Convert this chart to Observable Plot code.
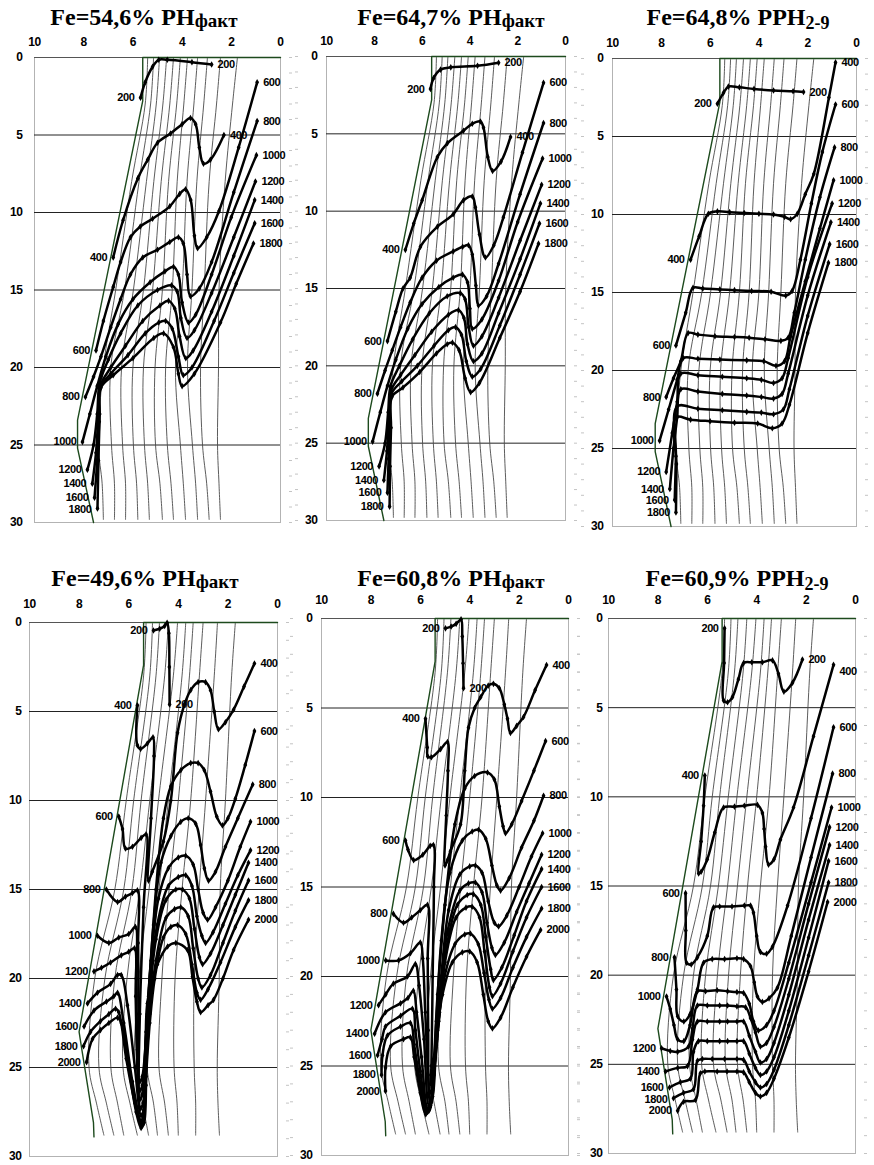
<!DOCTYPE html>
<html><head><meta charset="utf-8">
<script src="https://cdn.jsdelivr.net/npm/d3@7"></script>
<script src="https://cdn.jsdelivr.net/npm/@observablehq/plot@0.6"></script>
<style>
html,body{margin:0;padding:0;background:#fff;}
#page{position:relative;width:874px;height:1165px;overflow:hidden;background:#fff;}
.title{position:absolute;width:320px;text-align:center;font-family:"Liberation Serif","Times New Roman",serif;font-weight:bold;font-size:24px;line-height:24px;color:#000;white-space:nowrap;}
.title .sub{font-size:19px;position:relative;top:2px;}
.title .sub2{font-size:18px;position:relative;top:4px;}
.panel{position:absolute;}
.panel text{letter-spacing:-0.4px;}
</style></head><body><div id="page"></div>
<script>
// ---------- axis values ----------
const xTicks = [10, 8, 6, 4, 2, 0];
const yTicks = [0, 5, 10, 15, 20, 25, 30];
const minorY = [0,1,2,3,4,5,6,7,8,9,10,11,12,13,14,15,16,17,18,19,20,21,22,23,24,25,26,27,28,29,30];
const gridY = [5, 10, 15, 20, 25];

// ---------- pit geometry (top row) ----------
const outlineTop = [[0,0],[5.6,0],[5.6,2.8],[8.25,23.4],[8.25,25.2],[7.6,30]];
const thinDepthTop = [0, 3, 8, 15, 20, 25, 27.5, 29.8];
const thinTop = [
  [5.40, 5.50, 6.05, 6.70, 7.20, 7.40, 7.25, 7.20],
  [5.16, 5.28, 5.75, 6.34, 6.90, 6.87, 6.75, 6.75],
  [4.92, 5.05, 5.45, 5.98, 6.46, 6.42, 6.30, 6.30],
  [4.63, 4.78, 5.15, 5.57, 6.00, 5.98, 5.85, 5.80],
  [4.35, 4.50, 4.85, 5.20, 5.57, 5.53, 5.40, 5.33],
  [4.07, 4.22, 4.55, 4.80, 5.10, 5.08, 4.90, 4.80],
  [3.78, 3.93, 4.20, 4.40, 4.67, 4.60, 4.45, 4.35],
  [3.37, 3.52, 3.80, 4.00, 4.27, 4.07, 3.95, 3.86],
  [2.97, 3.12, 3.40, 3.60, 3.78, 3.58, 3.45, 3.37],
  [2.44, 2.60, 2.90, 3.10, 3.25, 3.17, 3.00, 2.90],
  [1.75, 1.95, 2.25, 2.50, 2.52, 2.56, 2.50, 2.44]
];

// ---------- pit geometry (bottom row) ----------
const outlineBottom = [[0,0],[5.4,0],[5.4,2.4],[8.0,23.0],[7.9,23.9],[7.42,28.1],[7.4,28.9]];
const thinDepthBottom = [0, 3, 10, 15, 20, 25, 27, 28.8];
const thinBottom = [
  [5.30, 5.40, 6.10, 6.56, 7.37, 7.60, 7.30, 7.00],
  [5.04, 5.15, 5.80, 6.20, 6.96, 7.20, 6.90, 6.60],
  [4.76, 4.90, 5.50, 5.87, 6.56, 6.72, 6.45, 6.20],
  [4.40, 4.55, 5.15, 5.55, 6.07, 6.23, 5.95, 5.65],
  [4.03, 4.20, 4.80, 5.18, 5.59, 5.75, 5.45, 5.20],
  [3.70, 3.85, 4.40, 4.78, 5.14, 5.26, 5.00, 4.84],
  [3.40, 3.55, 4.00, 4.37, 4.66, 4.78, 4.55, 4.40],
  [3.00, 3.15, 3.50, 3.85, 4.13, 4.17, 4.05, 4.00],
  [2.42, 2.55, 2.90, 3.16, 3.36, 3.36, 3.30, 3.30],
  [1.70, 1.85, 2.10, 2.31, 2.35, 2.43, 2.40, 2.34]
];

// ---------- curves: Fe=54,6% РН факт ----------
const fe546 = [
  ["200", [[5.69,2.6],[5.5,1.6],[5.2,0.6],[4.95,0.15],[4.6,0.15],[3.6,0.3],[2.8,0.45]]],
  ["400", [[6.8,12.9],[6.4,10.5],[5.8,7.8],[5.4,6.6],[5.0,5.5],[4.47,4.9],[4.0,4.3],[3.66,3.9],[3.45,4.3],[3.3,5.8],[3.13,6.85],[2.85,6.6],[2.3,5.0]]],
  ["600", [[7.5,18.9],[7.2,17.0],[6.8,14.8],[6.5,13.2],[6.1,11.6],[5.7,10.9],[5.2,10.4],[4.5,9.6],[4.1,8.8],[3.86,8.5],[3.65,9.2],[3.5,11.5],[3.37,12.3],[3.0,11.6],[2.5,9.9],[1.7,5.8],[0.95,1.6]]],
  ["800", [[7.93,21.9],[7.6,20.6],[7.3,19.3],[6.9,17.4],[6.5,15.6],[6.1,14.0],[5.6,12.9],[5.0,12.4],[4.5,11.9],[4.15,11.6],[3.95,12.0],[3.8,14.0],[3.66,15.4],[3.3,14.9],[2.8,13.2],[1.9,8.7],[0.95,4.1]]],
  ["1000", [[8.05,24.8],[7.75,23.0],[7.45,21.2],[7.1,19.3],[6.6,17.2],[6.0,15.6],[5.3,14.5],[4.7,13.8],[4.35,13.5],[4.15,14.0],[4.0,15.8],[3.74,17.1],[3.45,16.6],[2.8,14.0],[2.0,10.3],[0.98,6.3]]],
  ["1200", [[7.85,26.6],[7.6,25.0],[7.45,23.0],[7.35,21.0],[7.0,19.5],[6.5,17.8],[5.8,16.0],[5.0,15.0],[4.43,14.7],[4.2,15.1],[4.05,16.8],[3.8,18.1],[3.5,17.6],[2.8,15.2],[1.9,11.6],[1.02,8.0]]],
  ["1400", [[7.65,27.5],[7.5,25.5],[7.4,23.0],[7.33,21.2],[6.9,20.0],[6.3,18.6],[5.6,17.0],[4.9,16.0],[4.55,15.7],[4.3,16.2],[4.1,18.0],[3.85,19.4],[3.55,18.9],[2.8,16.4],[1.9,12.8],[1.05,9.2]]],
  ["1600", [[7.56,28.4],[7.45,26.0],[7.37,23.5],[7.32,21.3],[6.9,20.4],[6.2,19.2],[5.5,17.8],[4.95,17.1],[4.67,17.0],[4.4,17.5],[4.15,19.3],[3.95,20.5],[3.6,20.0],[2.7,17.0],[1.9,13.9],[1.05,10.7]]],
  ["1800", [[7.44,29.1],[7.4,26.0],[7.35,23.0],[7.3,21.3],[6.8,20.5],[6.0,19.4],[5.15,18.1],[4.75,17.8],[4.35,18.7],[4.15,20.4],[4.0,21.2],[3.5,20.4],[2.44,17.1],[1.8,14.6],[1.1,12.0]]]
];

// ---------- curves: Fe=64,7% РН факт ----------
const fe647 = [
  ["200", [[5.65,2.1],[5.52,1.4],[5.23,0.85],[4.8,0.7],[3.68,0.6],[2.8,0.4]]],
  ["400", [[6.7,12.5],[6.35,10.8],[6.0,9.3],[5.36,6.5],[4.94,5.6],[4.27,4.8],[3.9,4.35],[3.56,4.2],[3.43,4.6],[3.25,6.5],[3.05,7.4],[2.7,6.8],[2.3,5.2]]],
  ["600", [[7.45,18.4],[7.1,16.5],[6.8,15.0],[6.5,14.3],[6.07,12.3],[5.36,11.0],[4.7,10.2],[4.27,9.3],[3.9,9.05],[3.77,9.75],[3.6,11.5],[3.35,13.0],[3.0,12.2],[2.6,10.4],[1.8,6.2],[0.92,1.7]]],
  ["800", [[7.87,21.8],[7.55,20.3],[7.25,19.0],[6.9,17.5],[6.5,15.9],[6.0,14.3],[5.4,13.2],[4.7,12.6],[4.3,12.3],[4.06,12.2],[3.9,12.8],[3.75,14.8],[3.64,16.1],[3.3,15.5],[2.8,13.4],[1.9,8.9],[0.92,4.3]]],
  ["1000", [[8.07,24.9],[7.75,23.0],[7.45,21.3],[7.1,19.6],[6.6,17.6],[6.0,16.0],[5.3,14.9],[4.7,14.3],[4.31,14.1],[4.1,14.6],[4.0,16.3],[3.9,17.6],[3.5,17.0],[2.8,14.5],[2.0,10.7],[0.96,6.6]]],
  ["1200", [[7.8,26.5],[7.55,25.0],[7.42,23.0],[7.32,21.3],[6.95,20.0],[6.4,18.3],[5.7,16.6],[4.95,15.5],[4.4,15.3],[4.2,15.7],[4.05,17.5],[3.85,18.7],[3.5,18.1],[2.8,15.6],[1.9,11.9],[1.0,8.3]]],
  ["1400", [[7.6,27.4],[7.47,25.5],[7.38,23.2],[7.3,21.6],[6.9,20.6],[6.3,19.3],[5.6,17.8],[4.9,16.7],[4.48,16.4],[4.25,16.9],[4.1,18.6],[3.85,19.7],[3.5,19.2],[2.8,16.6],[1.9,13.1],[1.05,9.5]]],
  ["1600", [[7.45,28.2],[7.4,26.0],[7.34,23.5],[7.28,21.8],[6.85,21.0],[6.2,20.0],[5.5,18.7],[4.9,17.7],[4.6,17.5],[4.35,18.0],[4.15,19.7],[3.9,20.7],[3.55,20.2],[2.75,17.4],[1.9,14.1],[1.09,10.8]]],
  ["1800", [[7.36,29.1],[7.34,26.5],[7.3,24.0],[7.26,22.0],[6.8,21.4],[6.1,20.4],[5.4,19.2],[4.95,18.6],[4.73,18.5],[4.45,19.0],[4.2,20.8],[3.97,21.7],[3.6,21.1],[2.75,18.2],[1.9,15.2],[1.13,12.1]]]
];

// ---------- curves: Fe=64,8% РРН 2-9 ----------
const fe648 = [
  ["200", [[5.7,2.9],[5.45,2.2],[5.25,1.8],[4.8,1.85],[4.2,1.95],[3.4,2.05],[2.6,2.1],[2.17,2.15]]],
  ["400", [[6.8,12.9],[6.45,11.4],[6.07,9.95],[5.7,9.8],[5.2,9.85],[4.6,9.9],[4.0,9.95],[3.4,10.0],[2.95,10.15],[2.7,10.3],[2.43,9.96],[2.1,8.7],[1.75,7.4],[1.13,2.5],[0.86,0.25]]],
  ["600", [[7.4,18.4],[7.0,16.3],[6.7,14.7],[6.3,14.75],[5.6,14.8],[5.0,14.85],[4.3,14.9],[3.5,14.95],[2.9,15.2],[2.64,14.9],[2.3,12.9],[1.85,9.3],[1.4,6.0],[0.86,2.95]]],
  ["800", [[7.8,21.7],[7.5,20.5],[7.2,19.4],[6.9,17.6],[6.5,17.7],[5.8,17.8],[5.0,17.85],[4.4,17.9],[3.75,18.0],[3.1,18.1],[2.8,17.9],[2.55,16.3],[2.1,12.9],[1.5,8.9],[0.9,5.7]]],
  ["1000", [[8.07,24.5],[7.7,22.5],[7.35,20.6],[7.1,19.2],[6.5,19.25],[5.6,19.3],[4.5,19.35],[3.8,19.4],[3.3,19.7],[2.95,19.4],[2.7,17.8],[2.1,14.3],[1.5,10.9],[0.94,7.8]]],
  ["1200", [[7.8,26.5],[7.55,24.0],[7.35,22.0],[7.2,20.2],[6.5,20.3],[5.5,20.4],[4.5,20.5],[3.9,20.6],[3.4,20.8],[3.05,20.5],[2.8,19.2],[2.0,14.0],[1.0,9.3]]],
  ["1400", [[7.65,27.6],[7.5,25.0],[7.35,23.0],[7.2,21.2],[6.5,21.35],[5.5,21.5],[4.5,21.6],[3.9,21.7],[3.4,21.8],[3.05,21.5],[2.8,20.2],[2.0,15.2],[1.05,10.5]]],
  ["1600", [[7.45,28.3],[7.4,25.5],[7.35,22.3],[6.5,22.45],[5.5,22.55],[4.5,22.65],[3.9,22.7],[3.4,22.8],[3.0,22.5],[2.75,21.2],[2.0,16.5],[1.1,11.9]]],
  ["1800", [[7.4,29.1],[7.38,26.0],[7.4,23.0],[6.8,23.15],[6.0,23.25],[5.0,23.35],[4.05,23.4],[3.45,23.7],[3.05,23.4],[2.75,22.2],[2.0,17.6],[1.15,13.1]]]
];

// ---------- curves: Fe=49,6% РН факт ----------
const fe496 = [
  ["200", [[5.0,0.45],[4.75,0.35],[4.55,0.2],[4.45,0.02],[4.38,0.6],[4.36,2.5],[4.35,4.6]]],
  ["400", [[5.65,4.65],[5.65,6.9],[5.52,7.1],[5.25,6.8],[5.02,6.45],[4.98,7.5],[5.1,11.0],[5.2,14.5],[5.05,14.0],[4.6,12.3],[4.3,10.0],[4.03,6.2],[3.75,4.6],[3.5,3.8],[3.2,3.35],[2.9,3.35],[2.7,3.8],[2.55,5.0],[2.38,6.0],[2.1,5.6],[1.77,4.9],[1.35,3.6],[0.93,2.3]]],
  ["600", [[6.4,10.9],[6.25,11.6],[6.13,12.7],[5.85,12.6],[5.5,12.1],[5.3,11.9],[5.4,16.0],[5.55,22.0],[5.55,25.8],[5.45,25.5],[5.2,21.0],[4.9,15.0],[4.6,11.0],[4.3,9.2],[3.9,8.3],[3.5,7.9],[3.2,7.9],[2.95,8.3],[2.7,9.5],[2.45,10.9],[2.22,11.4],[2.0,11.0],[1.7,9.9],[1.3,8.0],[0.93,6.1]]],
  ["800", [[6.9,15.0],[6.45,15.7],[6.13,15.4],[5.85,15.2],[5.65,15.05],[5.62,18.0],[5.6,22.0],[5.55,26.3],[5.45,26.0],[5.25,22.0],[5.0,17.0],[4.7,13.5],[4.3,12.0],[3.9,11.2],[3.6,11.0],[3.3,11.3],[3.1,12.5],[2.95,13.8],[2.78,14.5],[2.5,14.0],[2.1,12.6],[1.6,11.0],[1.0,9.1]]],
  ["1000", [[7.26,17.6],[6.8,18.0],[6.4,17.7],[6.0,17.5],[5.73,17.1],[5.7,20.0],[5.65,24.0],[5.55,26.8],[5.45,26.5],[5.3,23.0],[5.1,19.0],[4.8,15.5],[4.4,13.8],[4.0,13.2],[3.7,13.1],[3.4,13.6],[3.2,15.0],[3.0,16.3],[2.82,16.7],[2.5,16.0],[2.0,14.5],[1.5,12.6],[1.09,11.2]]],
  ["1200", [[7.4,19.6],[7.1,19.4],[6.73,19.1],[6.3,18.7],[6.0,18.5],[5.77,18.3],[5.72,21.0],[5.65,25.0],[5.52,27.3],[5.42,27.0],[5.3,24.0],[5.15,20.5],[4.85,17.0],[4.4,14.8],[4.0,14.3],[3.7,14.2],[3.45,14.8],[3.25,16.5],[3.05,17.6],[2.9,18.0],[2.6,17.4],[2.1,15.8],[1.6,14.2],[1.09,12.8]]],
  ["1400", [[7.66,21.4],[7.26,20.8],[6.73,20.3],[6.45,19.8],[6.3,19.8],[6.05,21.5],[5.75,25.0],[5.5,27.7],[5.4,27.4],[5.3,24.5],[5.15,21.0],[4.9,17.8],[4.5,15.6],[4.1,15.0],[3.83,15.0],[3.55,15.5],[3.35,17.2],[3.15,18.8],[3.02,19.2],[2.7,18.6],[2.2,17.0],[1.7,15.3],[1.17,13.5]]],
  ["1600", [[7.8,22.7],[7.4,21.8],[6.9,21.3],[6.6,21.0],[6.45,20.8],[6.2,22.5],[5.85,25.8],[5.5,28.0],[5.4,27.7],[5.3,25.0],[5.15,22.0],[4.9,19.0],[4.5,16.6],[4.15,16.1],[3.9,16.0],[3.6,16.5],[3.4,18.3],[3.2,20.0],[3.05,20.5],[2.7,19.8],[2.2,18.0],[1.7,16.2],[1.17,14.5]]],
  ["1800", [[7.82,23.8],[7.54,23.0],[7.14,22.4],[6.8,22.0],[6.53,21.7],[6.4,21.9],[6.1,24.5],[5.75,27.0],[5.5,28.2],[5.4,27.9],[5.3,25.5],[5.15,22.5],[4.95,20.0],[4.6,17.7],[4.3,17.1],[4.03,17.0],[3.7,17.5],[3.45,19.2],[3.25,20.8],[3.1,21.2],[2.8,20.6],[2.3,19.1],[1.7,17.1],[1.17,15.6]]],
  ["2000", [[7.7,24.7],[7.46,23.4],[7.14,22.9],[6.8,22.5],[6.45,22.2],[6.3,22.5],[6.0,25.0],[5.7,27.5],[5.5,28.4],[5.38,28.1],[5.3,26.0],[5.25,21.4],[4.84,19.2],[4.43,18.2],[4.1,18.0],[3.63,18.4],[3.43,19.9],[3.25,21.3],[3.1,21.9],[2.8,21.5],[2.58,21.2],[2.2,20.0],[1.77,18.4],[1.17,16.7]]]
];

// ---------- curves: Fe=60,8% РН факт ----------
const fe608 = [
  ["200", [[4.98,0.55],[4.75,0.45],[4.55,0.3],[4.35,0.05],[4.3,1.0],[4.27,2.5],[4.25,3.9]]],
  ["400", [[5.79,5.6],[5.72,7.2],[5.7,7.7],[5.55,7.75],[5.18,7.3],[4.9,6.9],[4.88,8.5],[4.95,11.0],[5.0,13.8],[4.9,13.5],[4.78,13.0],[4.37,11.5],[4.2,8.5],[4.05,6.1],[3.8,5.0],[3.56,4.4],[3.25,3.75],[3.04,3.65],[2.8,3.9],[2.6,4.8],[2.47,5.6],[2.35,6.4],[2.1,6.0],[1.82,5.5],[1.35,4.0],[0.89,2.6]]],
  ["600", [[6.6,12.4],[6.5,12.9],[6.27,13.5],[5.9,13.2],[5.6,12.7],[5.47,12.65],[5.45,15.0],[5.5,20.0],[5.55,25.0],[5.58,26.0],[5.5,25.5],[5.3,21.0],[5.0,16.0],[4.6,11.5],[4.2,9.5],[3.8,8.8],[3.28,8.6],[3.0,9.0],[2.8,10.5],[2.65,11.6],[2.55,12.0],[2.3,11.5],[1.9,10.2],[1.4,8.5],[0.93,6.85]]],
  ["800", [[7.09,16.5],[6.68,17.0],[6.35,16.7],[6.0,16.3],[5.71,16.0],[5.7,19.0],[5.68,23.0],[5.62,26.5],[5.52,26.2],[5.35,22.5],[5.15,18.0],[4.8,14.2],[4.3,12.4],[3.9,11.9],[3.64,11.8],[3.35,12.3],[3.1,13.8],[2.9,14.9],[2.75,15.2],[2.4,14.5],[1.9,12.8],[1.4,11.3],[1.01,9.9]]],
  ["1000", [[7.4,19.1],[6.88,19.1],[6.4,18.7],[6.0,18.1],[5.9,19.0],[5.8,22.0],[5.68,25.5],[5.6,27.0],[5.5,26.7],[5.35,23.5],[5.15,20.0],[4.85,16.3],[4.4,14.3],[4.0,13.85],[3.77,13.8],[3.5,14.2],[3.25,15.8],[3.0,17.0],[2.83,17.2],[2.5,16.6],[2.0,15.0],[1.5,13.3],[1.05,12.0]]],
  ["1200", [[7.69,21.6],[7.4,21.0],[7.09,20.4],[6.52,20.0],[6.2,19.3],[6.05,20.5],[5.85,23.5],[5.65,27.2],[5.55,27.0],[5.4,24.5],[5.2,21.0],[4.9,17.5],[4.4,15.2],[4.05,14.8],[3.77,14.75],[3.5,15.3],[3.3,17.0],[3.1,18.4],[2.96,18.8],[2.6,18.1],[2.1,16.4],[1.6,14.8],[1.09,13.2]]],
  ["1400", [[7.85,23.2],[7.41,22.0],[6.8,21.5],[6.5,21.2],[6.28,20.8],[6.15,22.0],[5.95,24.5],[5.7,27.4],[5.58,27.2],[5.42,25.0],[5.22,22.0],[4.95,18.5],[4.5,16.0],[4.1,15.45],[3.85,15.4],[3.55,16.0],[3.35,17.8],[3.15,19.6],[3.04,20.2],[2.7,19.5],[2.2,17.7],[1.7,15.8],[1.09,14.0]]],
  ["1600", [[7.73,24.4],[7.55,23.5],[7.41,22.8],[6.8,22.2],[6.32,21.8],[6.2,23.0],[6.0,25.3],[5.72,27.5],[5.6,27.3],[5.45,25.5],[5.25,22.5],[5.0,19.2],[4.55,16.7],[4.15,16.15],[3.9,16.1],[3.6,16.7],[3.4,18.6],[3.2,20.6],[3.08,21.1],[2.75,20.4],[2.25,18.6],[1.7,16.7],[1.09,15.0]]],
  ["1800", [[7.57,25.5],[7.53,24.4],[7.33,23.3],[6.8,22.8],[6.4,22.6],[6.25,23.8],[6.0,26.0],[5.75,27.6],[5.62,27.4],[5.48,25.8],[5.3,23.0],[5.05,20.2],[4.6,18.2],[4.2,17.65],[3.97,17.6],[3.65,18.2],[3.42,19.8],[3.22,21.3],[3.08,21.8],[2.75,21.2],[2.25,19.5],[1.7,17.8],[1.09,16.2]]],
  ["2000", [[7.41,26.4],[7.41,25.1],[7.2,23.9],[6.68,23.5],[6.4,23.4],[6.25,24.5],[6.0,26.5],[5.78,27.7],[5.65,27.5],[5.5,26.0],[5.35,23.5],[5.1,21.0],[4.7,19.2],[4.3,18.65],[4.0,18.6],[3.7,19.2],[3.45,21.0],[3.25,22.5],[3.08,22.9],[2.75,22.3],[2.25,20.6],[1.7,18.9],[1.13,17.4]]]
];

// ---------- curves: Fe=60,9% РРН 2-9 ----------
const fe609 = [
  ["200", [[5.3,0.55],[5.32,2.5],[5.34,4.6],[5.18,4.7],[4.98,4.4],[4.74,3.4],[4.53,2.5],[4.2,2.45],[3.77,2.45],[3.36,2.35],[3.12,3.1],[2.9,4.1],[2.55,3.6],[2.15,2.3]]],
  ["400", [[6.1,8.8],[6.15,10.5],[6.25,12.5],[6.35,14.3],[6.25,14.2],[6.0,13.5],[5.7,12.0],[5.34,10.6],[4.9,10.55],[4.5,10.5],[3.97,10.45],[3.77,10.9],[3.7,11.8],[3.64,12.8],[3.52,13.8],[3.3,13.5],[3.04,12.4],[2.51,10.6],[1.7,6.6],[0.89,2.6]]],
  ["600", [[6.88,15.4],[6.87,17.5],[6.84,19.3],[6.65,19.4],[6.4,19.0],[6.0,17.8],[5.75,16.2],[5.5,16.15],[5.0,16.15],[4.5,16.1],[4.25,16.1],[4.13,16.5],[4.0,17.8],[3.85,18.7],[3.6,18.8],[3.36,18.4],[2.75,16.1],[1.8,11.2],[0.89,6.1]]],
  ["800", [[7.33,19.0],[7.25,20.8],[7.2,22.3],[6.95,22.6],[6.7,22.2],[6.4,20.8],[6.15,19.3],[5.8,19.1],[5.3,19.1],[4.8,19.05],[4.53,19.1],[4.25,19.5],[4.1,20.4],[3.97,21.2],[3.77,21.5],[3.5,21.3],[3.16,20.7],[2.6,17.8],[1.8,13.4],[0.93,8.7]]],
  ["1000", [[7.65,21.2],[7.5,21.9],[7.35,22.8],[7.2,23.6],[6.95,23.7],[6.7,22.8],[6.4,20.9],[6.07,20.9],[5.6,20.85],[5.18,20.9],[4.8,20.95],[4.53,21.0],[4.3,21.6],[4.13,22.6],[3.93,23.1],[3.6,22.8],[3.3,22.0],[2.7,19.3],[1.8,14.8],[0.97,10.6]]],
  ["1200", [[7.85,24.1],[7.5,24.25],[7.2,24.3],[6.76,24.0],[6.6,23.0],[6.4,21.7],[6.0,21.7],[5.5,21.7],[5.18,21.7],[4.8,21.75],[4.45,21.8],[4.25,22.4],[4.05,23.2],[3.85,24.0],[3.6,23.8],[3.3,22.9],[2.7,20.2],[1.9,16.0],[1.05,11.7]]],
  ["1400", [[7.69,25.4],[7.2,25.2],[6.8,25.1],[6.6,23.6],[6.4,22.6],[6.0,22.6],[5.5,22.6],[5.18,22.6],[4.8,22.6],[4.53,22.6],[4.3,23.4],[4.05,24.3],[3.85,24.9],[3.6,24.7],[3.3,23.8],[2.7,21.1],[1.9,16.9],[1.05,12.7]]],
  ["1600", [[7.53,26.3],[7.09,26.0],[6.68,25.8],[6.56,24.3],[6.36,23.7],[6.0,23.7],[5.5,23.7],[5.18,23.7],[4.8,23.7],[4.53,23.7],[4.3,24.4],[4.05,25.2],[3.85,25.6],[3.6,25.4],[3.3,24.6],[2.7,22.0],[1.9,17.9],[1.09,13.6]]],
  ["1800", [[7.37,26.9],[6.96,26.6],[6.56,26.4],[6.4,24.8],[6.2,24.7],[5.8,24.7],[5.3,24.7],[4.8,24.7],[4.53,24.75],[4.3,25.4],[4.05,26.0],[3.85,26.3],[3.6,26.1],[3.3,25.3],[2.7,22.8],[1.9,18.9],[1.09,14.8]]],
  ["2000", [[7.2,27.6],[6.96,27.1],[6.48,27.0],[6.28,25.5],[6.1,25.4],[5.6,25.4],[5.2,25.4],[4.8,25.4],[4.53,25.45],[4.3,26.0],[4.05,26.6],[3.85,26.8],[3.6,26.6],[3.3,25.8],[2.7,23.5],[1.9,19.8],[1.13,15.9]]]
];

// ---------- titles ----------
const titleMain = ["Fe=54,6% РН", "Fe=64,7% РН", "Fe=64,8% РРН", "Fe=49,6% РН", "Fe=60,8% РН", "Fe=60,9% РРН"];
const titleSub = ["факт", "факт", "2-9", "факт", "факт", "2-9"];

// ---------- layout ----------
const layout = [
  {curves: fe546, row: "top", frame: [34, 57, 280, 522], svgLeft: 0, svgTop: 30, yPad: 12, xPad: 12, cx: 144, tTop: 5, leftDash: false},
  {curves: fe647, row: "top", frame: [326, 56, 565, 520], svgLeft: 292, svgTop: 30, yPad: 9, xPad: 12, cx: 451, tTop: 5, leftDash: true},
  {curves: fe648, row: "top", frame: [612, 58, 856, 526], svgLeft: 580, svgTop: 30, yPad: 9, xPad: 12, cx: 738, tTop: 5, leftDash: true},
  {curves: fe496, row: "bottom", frame: [29, 622, 277, 1156], svgLeft: 0, svgTop: 590, yPad: 8, xPad: 15, cx: 145, tTop: 566, leftDash: false},
  {curves: fe608, row: "bottom", frame: [321, 618, 568, 1155], svgLeft: 290, svgTop: 590, yPad: 9, xPad: 15, cx: 451, tTop: 566, leftDash: true},
  {curves: fe609, row: "bottom", frame: [608, 618, 855, 1153], svgLeft: 578, svgTop: 590, yPad: 6, xPad: 15, cx: 737, tTop: 566, leftDash: true}
];

const page = document.getElementById("page");
const labelFont = "Liberation Sans, Arial, sans-serif";
const LABEL_SIZE = 11;
const MIN_GAP = 11.5; // px between stacked curve labels

// nudge stacked labels apart so they don't collide (derived positions only)
function dodge(labels, pxPerUnit) {
  const sorted = labels.slice().sort((a, b) => a.y - b.y);
  for (let i = 1; i < sorted.length; i++) {
    const gap = (sorted[i].y - sorted[i - 1].y) * pxPerUnit;
    if (gap < MIN_GAP) sorted[i].y = sorted[i - 1].y + MIN_GAP / pxPerUnit;
  }
  return labels;
}

layout.forEach((p, idx) => {
  const [fl, ft, fr, fb] = p.frame;
  const marginLeft = fl - p.svgLeft, marginTop = ft - p.svgTop;
  const marginRight = 12, marginBottom = 6;
  const width = fr - p.svgLeft + marginRight;
  const height = fb - p.svgTop + marginBottom;
  const pxPerUnit = (fb - ft) / 30;

  const depth = p.row === "top" ? thinDepthTop : thinDepthBottom;
  const thinSet = p.row === "top" ? thinTop : thinBottom;
  const outline = (p.row === "top" ? outlineTop : outlineBottom).map(([x, y]) => ({x, y}));
  const thin = thinSet.flatMap((xs, k) => xs.map((x, j) => ({k, x, y: depth[j]})));
  const pts = p.curves.flatMap(([label, arr]) => arr.map(([x, y]) => ({label, x, y})));
  const starts = dodge(p.curves.map(([label, arr]) => ({label, x: arr[0][0], y: arr[0][1]})), pxPerUnit);
  const ends = dodge(p.curves.map(([label, arr]) => ({label, x: arr[arr.length - 1][0], y: arr[arr.length - 1][1]})), pxPerUnit);

  const marks = [
    Plot.frame({stroke: "#b3b3b3", strokeWidth: 1}),
    Plot.axisY(yTicks, {anchor: "left", tickSize: 0, tickPadding: p.yPad, label: null, tickFormat: d => String(d), fontSize: 12, fontWeight: "bold"}),
    Plot.axisY(minorY, {anchor: "right", tickSize: 3, tickFormat: () => "", label: null, stroke: "#c4c4c4", dx: 8}),
    Plot.ruleY(gridY, {stroke: "#222", strokeWidth: 1}),
    Plot.ruleY([0], {stroke: "#555", strokeWidth: 1}),
    Plot.line(thin, {x: "x", y: "y", z: "k", curve: "catmull-rom", stroke: "#4a4a4a", strokeWidth: 0.9}),
    Plot.line(outline, {x: "x", y: "y", stroke: "#1d4a1d", strokeWidth: 1.4}),
    Plot.line(pts, {x: "x", y: "y", z: "label", curve: "catmull-rom", stroke: "#000", strokeWidth: 2.5, strokeLinejoin: "round"}),
    Plot.dot(pts, {x: "x", y: "y", symbol: "diamond", r: 2, fill: "#000", stroke: null}),
    Plot.text(starts, {x: "x", y: "y", text: "label", textAnchor: "end", dx: -6, fill: "#000", fontSize: LABEL_SIZE, fontWeight: "bold", fontFamily: labelFont}),
    Plot.text(ends, {x: "x", y: "y", text: "label", textAnchor: "start", dx: 6, fill: "#000", fontSize: LABEL_SIZE, fontWeight: "bold", fontFamily: labelFont})
  ];
  if (p.leftDash) marks.splice(2, 0, Plot.axisY(minorY, {anchor: "left", tickSize: 3, tickFormat: () => "", label: null, stroke: "#c4c4c4", dx: -28}));

  const chart = Plot.plot({
    width, height, marginLeft, marginTop, marginRight, marginBottom,
    style: {fontFamily: labelFont, fontSize: "12px", fontWeight: "bold", color: "#000", background: "transparent", overflow: "visible"},
    x: {domain: [0, 10], reverse: true, axis: "top", ticks: xTicks, tickSize: 0, tickPadding: p.xPad, label: null, tickFormat: d => String(d)},
    y: {domain: [0, 30], reverse: true, label: null},
    marks
  });
  const holder = document.createElement("div");
  holder.className = "panel";
  holder.style.left = p.svgLeft + "px";
  holder.style.top = p.svgTop + "px";
  holder.appendChild(chart);
  page.appendChild(holder);

  const t = document.createElement("div");
  t.className = "title";
  t.style.left = (p.cx - 160) + "px";
  t.style.top = p.tTop + "px";
  const main = document.createElement("span");
  main.textContent = titleMain[idx];
  const sub = document.createElement("span");
  sub.className = titleSub[idx] === "факт" ? "sub" : "sub2";
  sub.textContent = titleSub[idx];
  t.appendChild(main); t.appendChild(sub);
  page.appendChild(t);
});
</script></body></html>
